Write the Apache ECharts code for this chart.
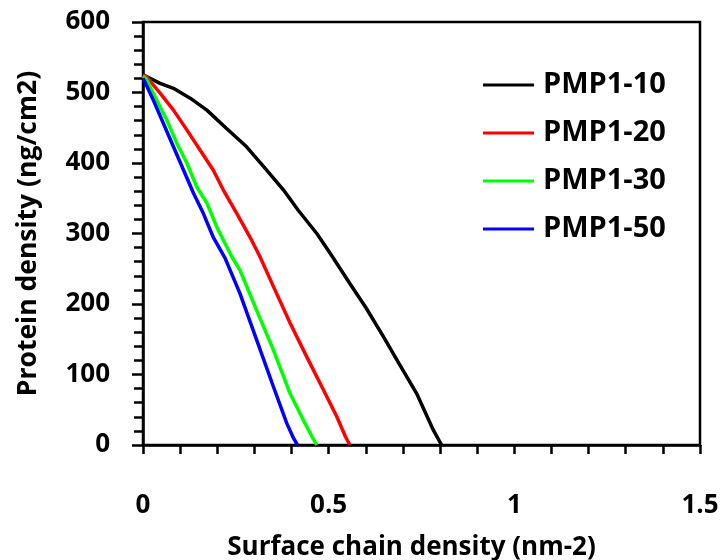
<!DOCTYPE html>
<html><head><meta charset="utf-8">
<script src="https://cdn.jsdelivr.net/npm/echarts@6/dist/echarts.min.js"></script>
<style>html,body{margin:0;padding:0;background:#fff}#c{width:721px;height:560px}</style>
</head><body><div id="c"></div>
<script>
const seriesNames = ['PMP1-10', 'PMP1-20', 'PMP1-30', 'PMP1-50'];
const seriesColors = ['#000000', '#ff0000', '#00ff00', '#0000ff'];
const x10 = [0, 0.005, 0.046, 0.082, 0.127, 0.172, 0.225, 0.279, 0.333, 0.378, 0.418, 0.468, 0.504, 0.557, 0.6, 0.647, 0.69, 0.737, 0.782, 0.804];
const y10 = [525, 525, 513, 506, 492, 475, 449, 423, 390, 362, 333, 300, 272, 229, 195, 154, 115, 73, 21, 0];
const x20 = [0, 0.01, 0.046, 0.082, 0.118, 0.154, 0.189, 0.216, 0.252, 0.288, 0.315, 0.351, 0.396, 0.441, 0.486, 0.522, 0.545, 0.557];
const y20 = [525, 522, 499, 475, 447, 418, 390, 362, 329, 295, 267, 225, 173, 125, 78, 40, 12, 0];
const x30 = [0, 0.008, 0.037, 0.064, 0.091, 0.118, 0.145, 0.172, 0.198, 0.239, 0.261, 0.306, 0.351, 0.396, 0.432, 0.455, 0.468];
const y30 = [523, 520, 489, 461, 428, 400, 366, 343, 310, 267, 248, 191, 135, 73, 35, 12, 0];
const x50 = [0, 0.005, 0.028, 0.055, 0.082, 0.109, 0.136, 0.162, 0.189, 0.221, 0.261, 0.306, 0.351, 0.387, 0.405, 0.416];
const y50 = [520, 515, 489, 456, 423, 390, 357, 329, 295, 265, 215, 149, 83, 31, 10, 0];
const xs = [x10, x20, x30, x50];
const ys = [y10, y20, y30, y50];

const font = '"Open Sans", "DejaVu Sans", sans-serif';
const chart = echarts.init(document.getElementById('c'));
chart.setOption({
  animation: false,
  backgroundColor: '#fff',
  grid: { left: 143, right: 21, top: 22, bottom: 115, containLabel: false, outerBoundsMode: 'none', show: true, borderColor: '#000', borderWidth: 2.5, backgroundColor: 'transparent' },
  legend: {
    orient: 'vertical', left: 478, top: 65,
    itemWidth: 51, itemHeight: 3, itemGap: 18, icon: 'rect',
    textStyle: { fontFamily: font, fontWeight: 'bold', fontSize: 29, color: '#000', lineHeight: 30, padding: [0, 0, 0, 4] },
    data: seriesNames
  },
  xAxis: {
    type: 'value', min: 0, max: 1.5, interval: 0.5,
    name: 'Surface chain density (nm-2)', nameLocation: 'middle', nameGap: 90,
    nameTextStyle: { fontFamily: font, fontWeight: 'bold', fontSize: 26, color: '#000', padding: [0, 20, 0, 0] },
    axisLine: { show: true, onZero: false, lineStyle: { color: '#000', width: 2.5 } },
    axisTick: { show: true, inside: false, length: 9, lineStyle: { color: '#000', width: 2.5 } },
    minorTick: { show: true, splitNumber: 5, length: 9, lineStyle: { color: '#000', width: 2.5 } },
    axisLabel: { fontFamily: font, fontWeight: 'bold', fontSize: 26, color: '#000', margin: 48, formatter: v => String(v) },
    splitLine: { show: false }
  },
  yAxis: {
    type: 'value', min: 0, max: 600, interval: 100,
    name: 'Protein density (ng/cm2)', nameLocation: 'middle', nameGap: 101,
    nameTextStyle: { fontFamily: font, fontWeight: 'bold', fontSize: 26.5, color: '#000' },
    axisLine: { show: true, lineStyle: { color: '#000', width: 2.5 } },
    axisTick: { show: true, inside: false, length: 11, lineStyle: { color: '#000', width: 2.5 } },
    minorTick: { show: true, splitNumber: 5, length: 9, lineStyle: { color: '#000', width: 2.5 } },
    axisLabel: { fontFamily: font, fontWeight: 'bold', fontSize: 26, color: '#000', margin: 33 },
    splitLine: { show: false }
  },
  series: seriesNames.map((n, i) => ({
    name: n, type: 'line', showSymbol: false, symbol: 'none',
    color: seriesColors[i],
    lineStyle: { color: seriesColors[i], width: 3.5 },
    data: xs[i].map((x, j) => [x, ys[i][j]])
  }))
});
</script></body></html>
